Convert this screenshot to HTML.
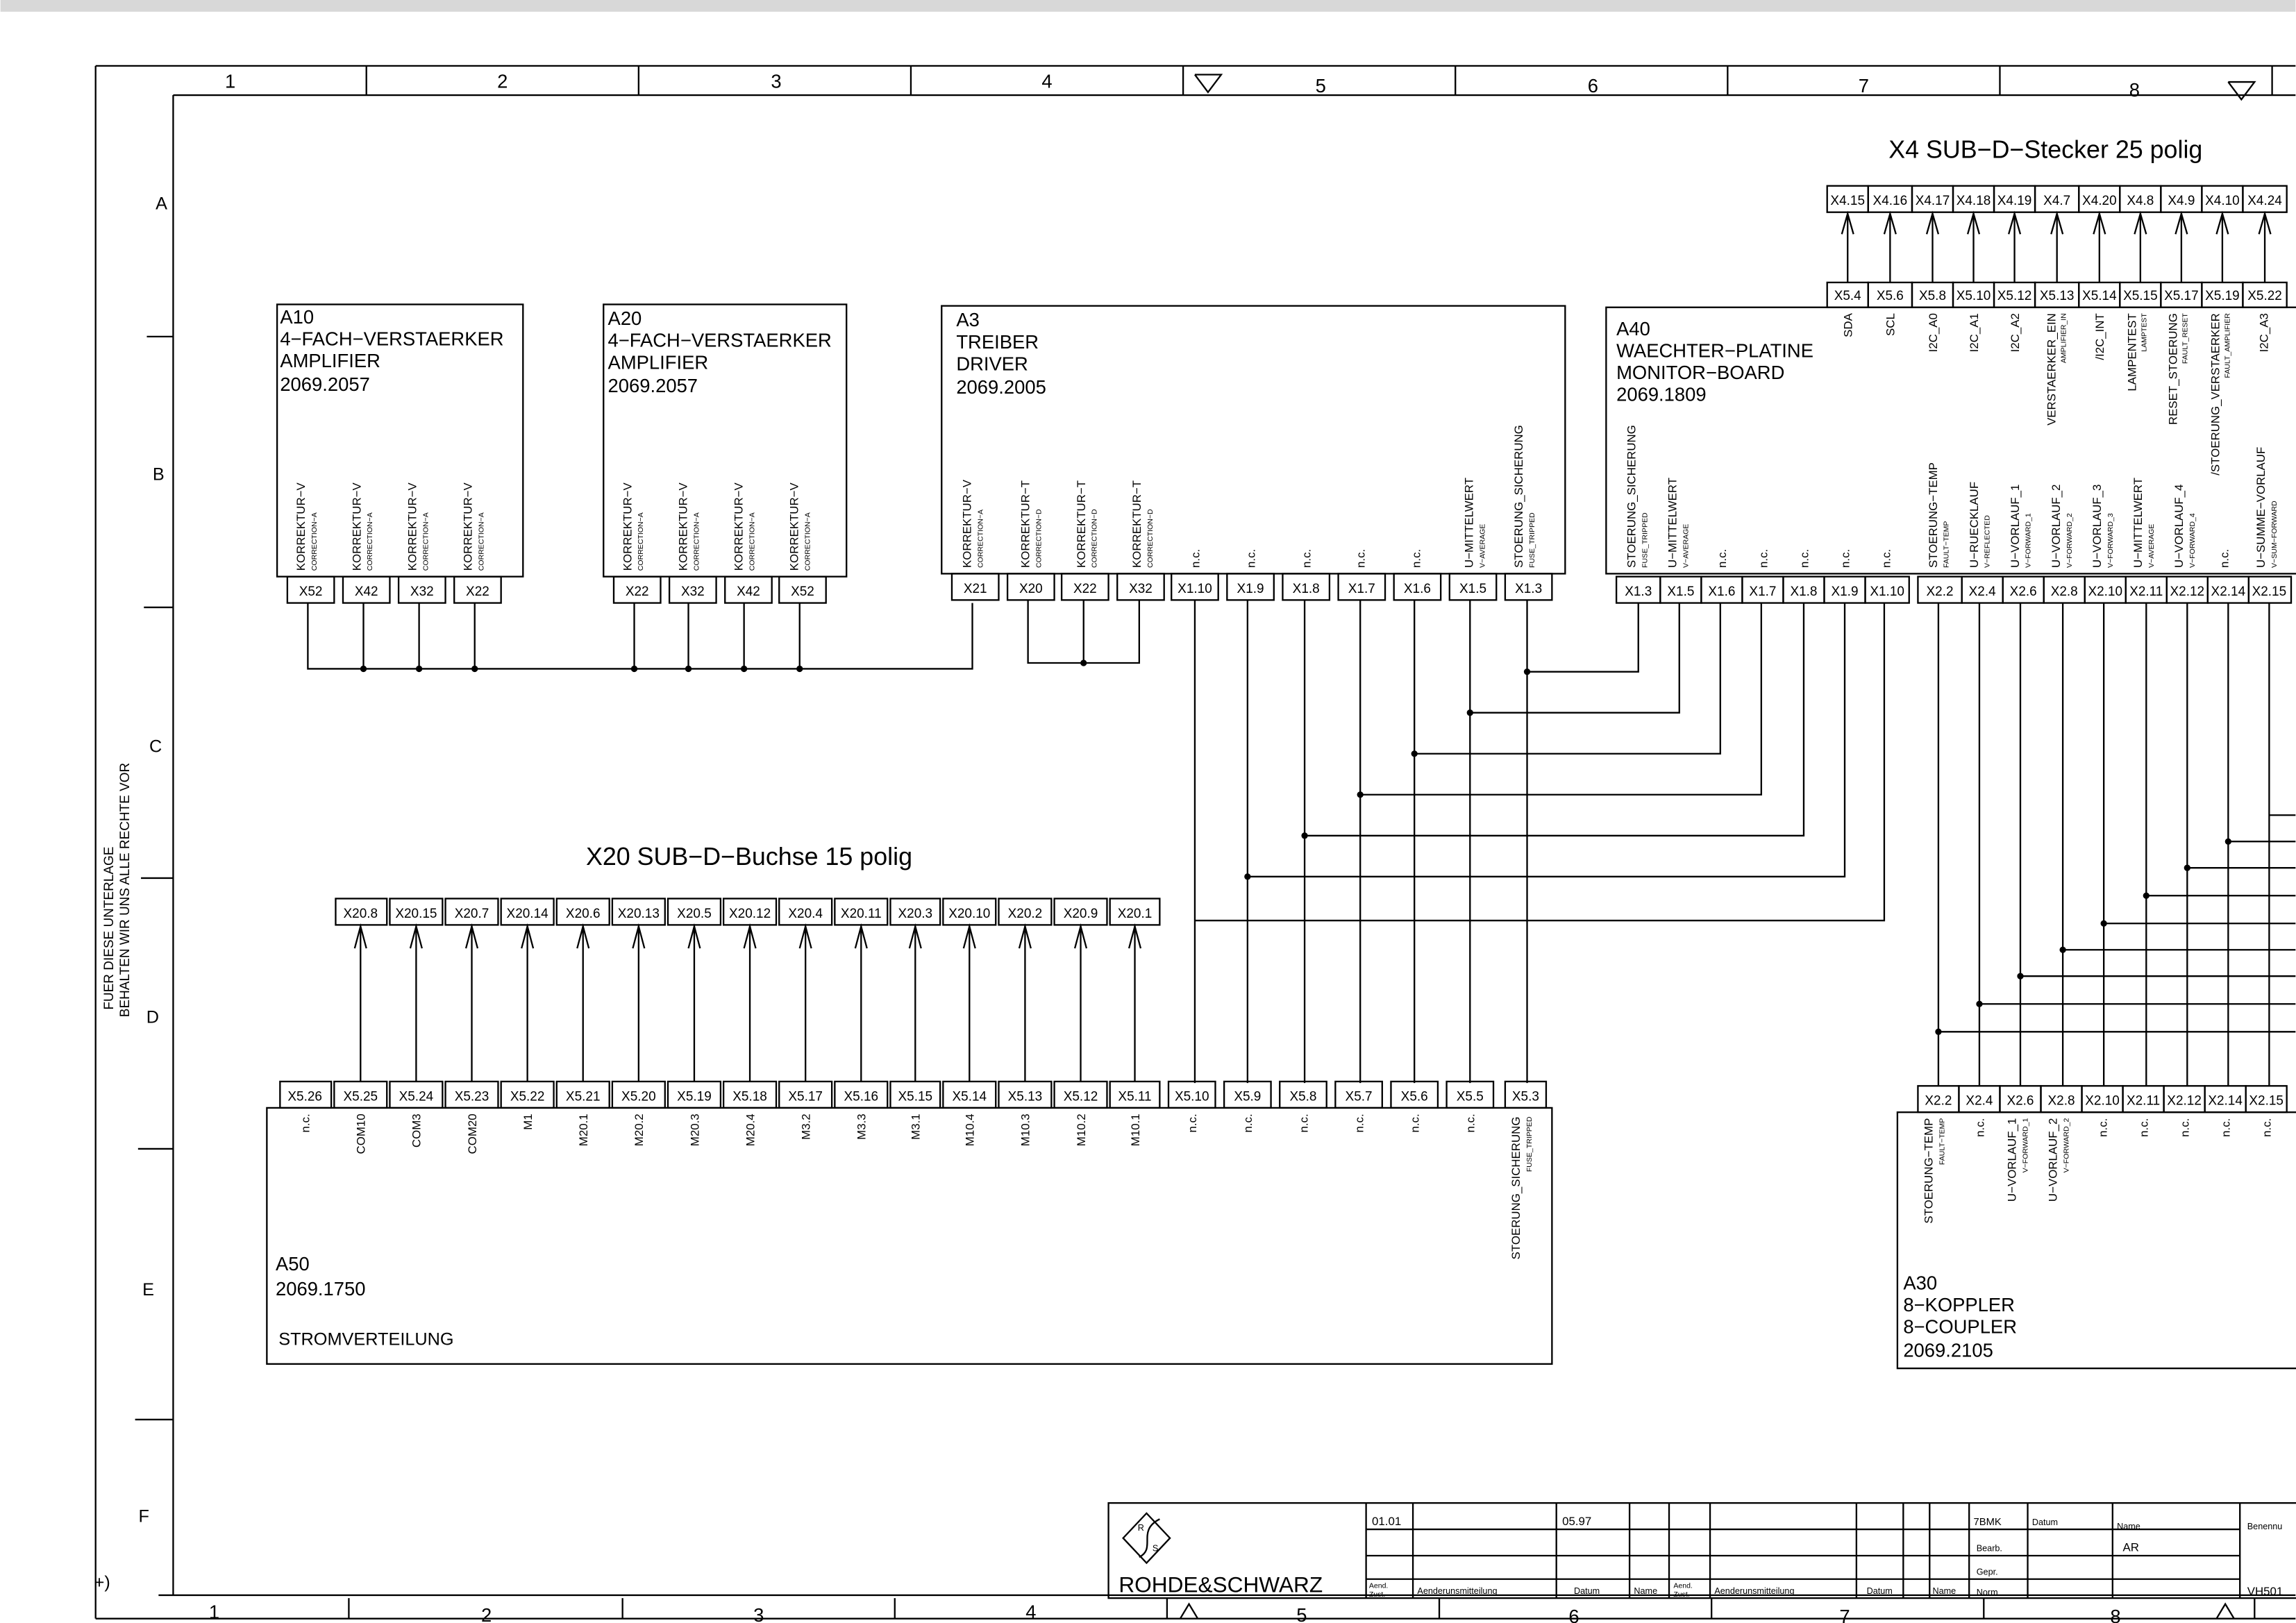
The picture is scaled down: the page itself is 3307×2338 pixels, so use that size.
<!DOCTYPE html>
<html><head><meta charset="utf-8"><style>
html,body{margin:0;padding:0;background:#fff}
svg{display:block}
text{font-family:"Liberation Sans",sans-serif;fill:#000}
.c{font-size:9px;text-anchor:middle}
.b{font-size:13px}
.v{font-size:8px}
.s{font-size:5px}
.t{font-size:17px}
line,rect,polyline,path{stroke:#000;fill:none;stroke-width:1.1}
</style></head><body>
<svg width="3307" height="2338" viewBox="0 0 1568 1109" xmlns="http://www.w3.org/2000/svg">
<rect x="0" y="0" width="1568" height="1109" style="fill:#fff;stroke:none"/>
<rect x="0" y="0" width="1568" height="8" style="fill:#d8d8d8;stroke:none"/>
<!-- frame -->
<line x1="65" y1="45" x2="1568" y2="45"/><line x1="65" y1="45" x2="65" y2="1106"/>
<line x1="118" y1="65" x2="1568" y2="65"/><line x1="118" y1="65" x2="118" y2="1090"/>
<line x1="108" y1="1090" x2="1568" y2="1090"/><line x1="65" y1="1106" x2="1568" y2="1106"/>
<line x1="1552" y1="45" x2="1552" y2="65"/>
<g>
<line x1="250" y1="45" x2="250" y2="65"/><line x1="436" y1="45" x2="436" y2="65"/><line x1="622" y1="45" x2="622" y2="65"/><line x1="808" y1="45" x2="808" y2="65"/><line x1="994" y1="45" x2="994" y2="65"/><line x1="1180" y1="45" x2="1180" y2="65"/><line x1="1366" y1="45" x2="1366" y2="65"/>
</g>
<text x="157" y="60" class="c" style="font-size:13px">1</text><text x="343" y="60" class="c" style="font-size:13px">2</text><text x="530" y="60" class="c" style="font-size:13px">3</text><text x="715" y="60" class="c" style="font-size:13px">4</text><text x="902" y="63" class="c" style="font-size:13px">5</text><text x="1088" y="63" class="c" style="font-size:13px">6</text><text x="1273" y="63" class="c" style="font-size:13px">7</text><text x="1458" y="66" class="c" style="font-size:13px">8</text>
<polyline points="816,51 834,51 825,63 816,51"/><polyline points="1522,56 1540,56 1531,68 1522,56"/>
<g>
<line x1="238" y1="1092" x2="238" y2="1106"/><line x1="425" y1="1092" x2="425" y2="1106"/><line x1="611" y1="1092" x2="611" y2="1106"/><line x1="797" y1="1092" x2="797" y2="1106"/><line x1="983" y1="1092" x2="983" y2="1106"/><line x1="1169" y1="1092" x2="1169" y2="1106"/><line x1="1355" y1="1092" x2="1355" y2="1106"/><line x1="1540" y1="1092" x2="1540" y2="1106"/>
</g>
<text x="146" y="1106" class="c" style="font-size:13px">1</text><text x="332" y="1108" class="c" style="font-size:13px">2</text><text x="518" y="1108" class="c" style="font-size:13px">3</text><text x="704" y="1106" class="c" style="font-size:13px">4</text><text x="889" y="1108" class="c" style="font-size:13px">5</text><text x="1075" y="1109" class="c" style="font-size:13px">6</text><text x="1260" y="1109" class="c" style="font-size:13px">7</text><text x="1445" y="1109" class="c" style="font-size:13px">8</text>
<polyline points="806,1106 812,1096 818,1106"/><polyline points="1514,1106 1520,1096 1526,1106"/>
<!-- row letters -->
<text x="110" y="143" class="c" style="font-size:12px">A</text><text x="108" y="328" class="c" style="font-size:12px">B</text><text x="106" y="514" class="c" style="font-size:12px">C</text><text x="104" y="699" class="c" style="font-size:12px">D</text><text x="101" y="885" class="c" style="font-size:12px">E</text><text x="98" y="1040" class="c" style="font-size:12px">F</text>
<line x1="100" y1="230" x2="118" y2="230"/><line x1="98" y1="415" x2="118" y2="415"/><line x1="96" y1="600" x2="118" y2="600"/><line x1="94" y1="785" x2="118" y2="785"/><line x1="92" y1="970" x2="118" y2="970"/>
<text transform="translate(77,690) rotate(-90)" style="font-size:9px">FUER DIESE UNTERLAGE</text>
<text transform="translate(88,695) rotate(-90)" style="font-size:9px">BEHALTEN WIR UNS ALLE RECHTE VOR</text>
<text x="64" y="1085" style="font-size:12px">+)</text>

<!-- X4 -->
<text x="1290" y="108" class="t">X4 SUB−D−Stecker 25 polig</text>
<g class="c">
<rect x="1248" y="127" width="28" height="18"/><text x="1262" y="140" class="c">X4.15</text>
<rect x="1276" y="127" width="30" height="18"/><text x="1291" y="140" class="c">X4.16</text>
<rect x="1306" y="127" width="28" height="18"/><text x="1320" y="140" class="c">X4.17</text>
<rect x="1334" y="127" width="28" height="18"/><text x="1348" y="140" class="c">X4.18</text>
<rect x="1362" y="127" width="28" height="18"/><text x="1376" y="140" class="c">X4.19</text>
<rect x="1390" y="127" width="30" height="18"/><text x="1405" y="140" class="c">X4.7</text>
<rect x="1420" y="127" width="28" height="18"/><text x="1434" y="140" class="c">X4.20</text>
<rect x="1448" y="127" width="28" height="18"/><text x="1462" y="140" class="c">X4.8</text>
<rect x="1476" y="127" width="28" height="18"/><text x="1490" y="140" class="c">X4.9</text>
<rect x="1504" y="127" width="28" height="18"/><text x="1518" y="140" class="c">X4.10</text>
<rect x="1532" y="127" width="30" height="18"/><text x="1547" y="140" class="c">X4.24</text>
<rect x="1248" y="193" width="28" height="17"/><text x="1262" y="205" class="c">X5.4</text>
<rect x="1276" y="193" width="30" height="17"/><text x="1291" y="205" class="c">X5.6</text>
<rect x="1306" y="193" width="28" height="17"/><text x="1320" y="205" class="c">X5.8</text>
<rect x="1334" y="193" width="28" height="17"/><text x="1348" y="205" class="c">X5.10</text>
<rect x="1362" y="193" width="28" height="17"/><text x="1376" y="205" class="c">X5.12</text>
<rect x="1390" y="193" width="30" height="17"/><text x="1405" y="205" class="c">X5.13</text>
<rect x="1420" y="193" width="28" height="17"/><text x="1434" y="205" class="c">X5.14</text>
<rect x="1448" y="193" width="28" height="17"/><text x="1462" y="205" class="c">X5.15</text>
<rect x="1476" y="193" width="28" height="17"/><text x="1490" y="205" class="c">X5.17</text>
<rect x="1504" y="193" width="28" height="17"/><text x="1518" y="205" class="c">X5.19</text>
<rect x="1532" y="193" width="30" height="17"/><text x="1547" y="205" class="c">X5.22</text>
</g>
<g>
<line x1="1262" y1="193" x2="1262" y2="146"/><polyline points="1258,160 1262,146 1266,160"/>
<line x1="1291" y1="193" x2="1291" y2="146"/><polyline points="1287,160 1291,146 1295,160"/>
<line x1="1320" y1="193" x2="1320" y2="146"/><polyline points="1316,160 1320,146 1324,160"/>
<line x1="1348" y1="193" x2="1348" y2="146"/><polyline points="1344,160 1348,146 1352,160"/>
<line x1="1376" y1="193" x2="1376" y2="146"/><polyline points="1372,160 1376,146 1380,160"/>
<line x1="1405" y1="193" x2="1405" y2="146"/><polyline points="1401,160 1405,146 1409,160"/>
<line x1="1434" y1="193" x2="1434" y2="146"/><polyline points="1430,160 1434,146 1438,160"/>
<line x1="1462" y1="193" x2="1462" y2="146"/><polyline points="1458,160 1462,146 1466,160"/>
<line x1="1490" y1="193" x2="1490" y2="146"/><polyline points="1486,160 1490,146 1494,160"/>
<line x1="1518" y1="193" x2="1518" y2="146"/><polyline points="1514,160 1518,146 1522,160"/>
<line x1="1547" y1="193" x2="1547" y2="146"/><polyline points="1543,160 1547,146 1551,160"/>
</g>

<!-- A10 -->
<rect x="189" y="208" width="168" height="186"/>
<text x="191" y="221" class="b">A10</text><text x="191" y="236" class="b">4−FACH−VERSTAERKER</text><text x="191" y="251" class="b">AMPLIFIER</text><text x="191" y="267" class="b">2069.2057</text>
<g>
<text transform="translate(208,390) rotate(-90)" class="v">KORREKTUR−V</text><text transform="translate(216,390) rotate(-90)" class="s">CORRECTION−A</text>
<text transform="translate(246,390) rotate(-90)" class="v">KORREKTUR−V</text><text transform="translate(254,390) rotate(-90)" class="s">CORRECTION−A</text>
<text transform="translate(284,390) rotate(-90)" class="v">KORREKTUR−V</text><text transform="translate(292,390) rotate(-90)" class="s">CORRECTION−A</text>
<text transform="translate(322,390) rotate(-90)" class="v">KORREKTUR−V</text><text transform="translate(330,390) rotate(-90)" class="s">CORRECTION−A</text>
</g>
<rect x="196" y="394" width="32" height="18"/><text x="212" y="407" class="c">X52</text>
<rect x="234" y="394" width="32" height="18"/><text x="250" y="407" class="c">X42</text>
<rect x="272" y="394" width="32" height="18"/><text x="288" y="407" class="c">X32</text>
<rect x="310" y="394" width="32" height="18"/><text x="326" y="407" class="c">X22</text>
<!-- A20 -->
<rect x="412" y="208" width="166" height="186"/>
<text x="415" y="222" class="b">A20</text><text x="415" y="237" class="b">4−FACH−VERSTAERKER</text><text x="415" y="252" class="b">AMPLIFIER</text><text x="415" y="268" class="b">2069.2057</text>
<g>
<text transform="translate(431,390) rotate(-90)" class="v">KORREKTUR−V</text><text transform="translate(439,390) rotate(-90)" class="s">CORRECTION−A</text>
<text transform="translate(469,390) rotate(-90)" class="v">KORREKTUR−V</text><text transform="translate(477,390) rotate(-90)" class="s">CORRECTION−A</text>
<text transform="translate(507,390) rotate(-90)" class="v">KORREKTUR−V</text><text transform="translate(515,390) rotate(-90)" class="s">CORRECTION−A</text>
<text transform="translate(545,390) rotate(-90)" class="v">KORREKTUR−V</text><text transform="translate(553,390) rotate(-90)" class="s">CORRECTION−A</text>
</g>
<rect x="419" y="394" width="32" height="18"/><text x="435" y="407" class="c">X22</text>
<rect x="457" y="394" width="32" height="18"/><text x="473" y="407" class="c">X32</text>
<rect x="495" y="394" width="32" height="18"/><text x="511" y="407" class="c">X42</text>
<rect x="532" y="394" width="32" height="18"/><text x="548" y="407" class="c">X52</text>
<!-- bus -->
<polyline points="210,412 210,457 664,457 664,412"/>
<line x1="248" y1="412" x2="248" y2="457"/><line x1="286" y1="412" x2="286" y2="457"/><line x1="324" y1="412" x2="324" y2="457"/>
<line x1="433" y1="412" x2="433" y2="457"/><line x1="470" y1="412" x2="470" y2="457"/><line x1="508" y1="412" x2="508" y2="457"/><line x1="546" y1="412" x2="546" y2="457"/>
<g style="fill:#000">
<circle cx="248" cy="457" r="2.2"/><circle cx="286" cy="457" r="2.2"/><circle cx="324" cy="457" r="2.2"/><circle cx="433" cy="457" r="2.2"/><circle cx="470" cy="457" r="2.2"/><circle cx="508" cy="457" r="2.2"/><circle cx="546" cy="457" r="2.2"/>
<circle cx="740" cy="453" r="2.2"/>
</g>
<polyline points="702,410 702,453 778,453 778,410"/><line x1="740" y1="410" x2="740" y2="453"/>

<!-- A3 -->
<rect x="643" y="209" width="426" height="183"/>
<text x="653" y="223" class="b">A3</text><text x="653" y="238" class="b">TREIBER</text><text x="653" y="253" class="b">DRIVER</text><text x="653" y="269" class="b">2069.2005</text>
<g>
<text transform="translate(663,388) rotate(-90)" class="v">KORREKTUR−V</text><text transform="translate(671,388) rotate(-90)" class="s">CORRECTION−A</text>
<text transform="translate(703,388) rotate(-90)" class="v">KORREKTUR−T</text><text transform="translate(711,388) rotate(-90)" class="s">CORRECTION−D</text>
<text transform="translate(741,388) rotate(-90)" class="v">KORREKTUR−T</text><text transform="translate(749,388) rotate(-90)" class="s">CORRECTION−D</text>
<text transform="translate(779,388) rotate(-90)" class="v">KORREKTUR−T</text><text transform="translate(787,388) rotate(-90)" class="s">CORRECTION−D</text>
<text transform="translate(819,388) rotate(-90)" class="v">n.c.</text>
<text transform="translate(857,388) rotate(-90)" class="v">n.c.</text>
<text transform="translate(895,388) rotate(-90)" class="v">n.c.</text>
<text transform="translate(932,388) rotate(-90)" class="v">n.c.</text>
<text transform="translate(970,388) rotate(-90)" class="v">n.c.</text>
<text transform="translate(1006,388) rotate(-90)" class="v">U−MITTELWERT</text><text transform="translate(1014,388) rotate(-90)" class="s">V−AVERAGE</text>
<text transform="translate(1040,388) rotate(-90)" class="v">STOERUNG_SICHERUNG</text><text transform="translate(1048,388) rotate(-90)" class="s">FUSE_TRIPPED</text>
</g>
<rect x="650" y="392" width="32" height="18"/><text x="666" y="405" class="c">X21</text>
<rect x="688" y="392" width="32" height="18"/><text x="704" y="405" class="c">X20</text>
<rect x="725" y="392" width="32" height="18"/><text x="741" y="405" class="c">X22</text>
<rect x="763" y="392" width="32" height="18"/><text x="779" y="405" class="c">X32</text>
<rect x="800" y="392" width="32" height="18"/><text x="816" y="405" class="c">X1.10</text>
<rect x="838" y="392" width="32" height="18"/><text x="854" y="405" class="c">X1.9</text>
<rect x="876" y="392" width="32" height="18"/><text x="892" y="405" class="c">X1.8</text>
<rect x="914" y="392" width="32" height="18"/><text x="930" y="405" class="c">X1.7</text>
<rect x="952" y="392" width="32" height="18"/><text x="968" y="405" class="c">X1.6</text>
<rect x="990" y="392" width="32" height="18"/><text x="1006" y="405" class="c">X1.5</text>
<rect x="1028" y="392" width="32" height="18"/><text x="1044" y="405" class="c">X1.3</text>

<!-- A40 -->
<rect x="1097" y="210" width="480" height="182"/>
<text x="1104" y="229" class="b">A40</text><text x="1104" y="244" class="b">WAECHTER−PLATINE</text><text x="1104" y="259" class="b">MONITOR−BOARD</text><text x="1104" y="274" class="b">2069.1809</text>
<g>
<text transform="translate(1265,214) rotate(-90)" class="v" text-anchor="end">SDA</text>
<text transform="translate(1294,214) rotate(-90)" class="v" text-anchor="end">SCL</text>
<text transform="translate(1323,214) rotate(-90)" class="v" text-anchor="end">I2C_A0</text>
<text transform="translate(1351,214) rotate(-90)" class="v" text-anchor="end">I2C_A1</text>
<text transform="translate(1379,214) rotate(-90)" class="v" text-anchor="end">I2C_A2</text>
<text transform="translate(1404,214) rotate(-90)" class="v" text-anchor="end">VERSTAERKER_EIN</text><text transform="translate(1411,214) rotate(-90)" class="s" text-anchor="end">AMPLIFIER_IN</text>
<text transform="translate(1437,214) rotate(-90)" class="v" text-anchor="end">/I2C_INT</text>
<text transform="translate(1459,214) rotate(-90)" class="v" text-anchor="end">LAMPENTEST</text><text transform="translate(1466,214) rotate(-90)" class="s" text-anchor="end">LAMPTEST</text>
<text transform="translate(1487,214) rotate(-90)" class="v" text-anchor="end">RESET_STOERUNG</text><text transform="translate(1494,214) rotate(-90)" class="s" text-anchor="end">FAULT_RESET</text>
<text transform="translate(1516,214) rotate(-90)" class="v" text-anchor="end">/STOERUNG_VERSTAERKER</text><text transform="translate(1523,214) rotate(-90)" class="s" text-anchor="end">FAULT_AMPLIFIER</text>
<text transform="translate(1549,214) rotate(-90)" class="v" text-anchor="end">I2C_A3</text>
<text transform="translate(1117,388) rotate(-90)" class="v">STOERUNG_SICHERUNG</text><text transform="translate(1125,388) rotate(-90)" class="s">FUSE_TRIPPED</text>
<text transform="translate(1145,388) rotate(-90)" class="v">U−MITTELWERT</text><text transform="translate(1153,388) rotate(-90)" class="s">V−AVERAGE</text>
<text transform="translate(1179,388) rotate(-90)" class="v">n.c.</text>
<text transform="translate(1207,388) rotate(-90)" class="v">n.c.</text>
<text transform="translate(1235,388) rotate(-90)" class="v">n.c.</text>
<text transform="translate(1263,388) rotate(-90)" class="v">n.c.</text>
<text transform="translate(1291,388) rotate(-90)" class="v">n.c.</text>
<text transform="translate(1323,388) rotate(-90)" class="v">STOERUNG−TEMP</text><text transform="translate(1331,388) rotate(-90)" class="s">FAULT−TEMP</text>
<text transform="translate(1351,388) rotate(-90)" class="v">U−RUECKLAUF</text><text transform="translate(1359,388) rotate(-90)" class="s">V−REFLECTED</text>
<text transform="translate(1379,388) rotate(-90)" class="v">U−VORLAUF_1</text><text transform="translate(1387,388) rotate(-90)" class="s">V−FORWARD_1</text>
<text transform="translate(1407,388) rotate(-90)" class="v">U−VORLAUF_2</text><text transform="translate(1415,388) rotate(-90)" class="s">V−FORWARD_2</text>
<text transform="translate(1435,388) rotate(-90)" class="v">U−VORLAUF_3</text><text transform="translate(1443,388) rotate(-90)" class="s">V−FORWARD_3</text>
<text transform="translate(1463,388) rotate(-90)" class="v">U−MITTELWERT</text><text transform="translate(1471,388) rotate(-90)" class="s">V−AVERAGE</text>
<text transform="translate(1491,388) rotate(-90)" class="v">U−VORLAUF_4</text><text transform="translate(1499,388) rotate(-90)" class="s">V−FORWARD_4</text>
<text transform="translate(1522,388) rotate(-90)" class="v">n.c.</text>
<text transform="translate(1547,388) rotate(-90)" class="v">U−SUMME−VORLAUF</text><text transform="translate(1555,388) rotate(-90)" class="s">V−SUM−FORWARD</text>
</g>
<g>
<rect x="1104" y="394" width="30" height="18"/><text x="1119" y="407" class="c">X1.3</text>
<rect x="1134" y="394" width="28" height="18"/><text x="1148" y="407" class="c">X1.5</text>
<rect x="1162" y="394" width="28" height="18"/><text x="1176" y="407" class="c">X1.6</text>
<rect x="1190" y="394" width="28" height="18"/><text x="1204" y="407" class="c">X1.7</text>
<rect x="1218" y="394" width="28" height="18"/><text x="1232" y="407" class="c">X1.8</text>
<rect x="1246" y="394" width="28" height="18"/><text x="1260" y="407" class="c">X1.9</text>
<rect x="1274" y="394" width="30" height="18"/><text x="1289" y="407" class="c">X1.10</text>
<rect x="1310" y="394" width="30" height="18"/><text x="1325" y="407" class="c">X2.2</text>
<rect x="1340" y="394" width="28" height="18"/><text x="1354" y="407" class="c">X2.4</text>
<rect x="1368" y="394" width="28" height="18"/><text x="1382" y="407" class="c">X2.6</text>
<rect x="1396" y="394" width="28" height="18"/><text x="1410" y="407" class="c">X2.8</text>
<rect x="1424" y="394" width="28" height="18"/><text x="1438" y="407" class="c">X2.10</text>
<rect x="1452" y="394" width="28" height="18"/><text x="1466" y="407" class="c">X2.11</text>
<rect x="1480" y="394" width="28" height="18"/><text x="1494" y="407" class="c">X2.12</text>
<rect x="1508" y="394" width="28" height="18"/><text x="1522" y="407" class="c">X2.14</text>
<rect x="1536" y="394" width="29" height="18"/><text x="1550" y="407" class="c">X2.15</text>
</g>
<!-- X1 wiring -->
<g>
<line x1="1043" y1="410" x2="1043" y2="740"/><polyline points="1043,459 1119,459 1119,412"/>
<line x1="1004" y1="410" x2="1004" y2="740"/><polyline points="1004,487 1147,487 1147,412"/>
<line x1="966" y1="410" x2="966" y2="740"/><polyline points="966,515 1175,515 1175,412"/>
<line x1="929" y1="410" x2="929" y2="740"/><polyline points="929,543 1203,543 1203,412"/>
<line x1="891" y1="410" x2="891" y2="740"/><polyline points="891,571 1232,571 1232,412"/>
<line x1="852" y1="410" x2="852" y2="740"/><polyline points="852,599 1260,599 1260,412"/>
<line x1="816" y1="410" x2="816" y2="740"/><polyline points="816,629 1287,629 1287,412"/>
</g>
<g style="fill:#000">
<circle cx="1043" cy="459" r="2.2"/><circle cx="1004" cy="487" r="2.2"/><circle cx="966" cy="515" r="2.2"/><circle cx="929" cy="543" r="2.2"/><circle cx="891" cy="571" r="2.2"/><circle cx="852" cy="599" r="2.2"/>
<circle cx="1324" cy="705" r="2.2"/><circle cx="1352" cy="686" r="2.2"/><circle cx="1380" cy="667" r="2.2"/><circle cx="1409" cy="649" r="2.2"/><circle cx="1437" cy="631" r="2.2"/><circle cx="1466" cy="612" r="2.2"/><circle cx="1494" cy="593" r="2.2"/><circle cx="1522" cy="575" r="2.2"/>
</g>
<!-- X2 wiring -->
<g>
<line x1="1324" y1="412" x2="1324" y2="742"/><line x1="1324" y1="705" x2="1568" y2="705"/>
<line x1="1352" y1="412" x2="1352" y2="742"/><line x1="1352" y1="686" x2="1568" y2="686"/>
<line x1="1380" y1="412" x2="1380" y2="742"/><line x1="1380" y1="667" x2="1568" y2="667"/>
<line x1="1409" y1="412" x2="1409" y2="742"/><line x1="1409" y1="649" x2="1568" y2="649"/>
<line x1="1437" y1="412" x2="1437" y2="742"/><line x1="1437" y1="631" x2="1568" y2="631"/>
<line x1="1466" y1="412" x2="1466" y2="742"/><line x1="1466" y1="612" x2="1568" y2="612"/>
<line x1="1494" y1="412" x2="1494" y2="742"/><line x1="1494" y1="593" x2="1568" y2="593"/>
<line x1="1522" y1="412" x2="1522" y2="742"/><line x1="1522" y1="575" x2="1568" y2="575"/>
<line x1="1550" y1="412" x2="1550" y2="742"/><line x1="1550" y1="557" x2="1568" y2="557"/>
</g>

<!-- X20 -->
<text x="400" y="591" class="t">X20 SUB−D−Buchse 15 polig</text>
<g>
<rect x="229" y="614" width="35" height="18"/><text x="246" y="627" class="c">X20.8</text>
<rect x="266" y="614" width="36" height="18"/><text x="284" y="627" class="c">X20.15</text>
<rect x="304" y="614" width="36" height="18"/><text x="322" y="627" class="c">X20.7</text>
<rect x="342" y="614" width="36" height="18"/><text x="360" y="627" class="c">X20.14</text>
<rect x="380" y="614" width="36" height="18"/><text x="398" y="627" class="c">X20.6</text>
<rect x="418" y="614" width="36" height="18"/><text x="436" y="627" class="c">X20.13</text>
<rect x="456" y="614" width="36" height="18"/><text x="474" y="627" class="c">X20.5</text>
<rect x="494" y="614" width="36" height="18"/><text x="512" y="627" class="c">X20.12</text>
<rect x="532" y="614" width="36" height="18"/><text x="550" y="627" class="c">X20.4</text>
<rect x="570" y="614" width="36" height="18"/><text x="588" y="627" class="c">X20.11</text>
<rect x="608" y="614" width="34" height="18"/><text x="625" y="627" class="c">X20.3</text>
<rect x="644" y="614" width="36" height="18"/><text x="662" y="627" class="c">X20.10</text>
<rect x="682" y="614" width="36" height="18"/><text x="700" y="627" class="c">X20.2</text>
<rect x="720" y="614" width="36" height="18"/><text x="738" y="627" class="c">X20.9</text>
<rect x="758" y="614" width="34" height="18"/><text x="775" y="627" class="c">X20.1</text>
</g>
<g>
<line x1="246" y1="739" x2="246" y2="633"/><polyline points="242,648 246,633 250,648"/>
<line x1="284" y1="739" x2="284" y2="633"/><polyline points="280,648 284,633 288,648"/>
<line x1="322" y1="739" x2="322" y2="633"/><polyline points="318,648 322,633 326,648"/>
<line x1="360" y1="739" x2="360" y2="633"/><polyline points="356,648 360,633 364,648"/>
<line x1="398" y1="739" x2="398" y2="633"/><polyline points="394,648 398,633 402,648"/>
<line x1="436" y1="739" x2="436" y2="633"/><polyline points="432,648 436,633 440,648"/>
<line x1="474" y1="739" x2="474" y2="633"/><polyline points="470,648 474,633 478,648"/>
<line x1="512" y1="739" x2="512" y2="633"/><polyline points="508,648 512,633 516,648"/>
<line x1="550" y1="739" x2="550" y2="633"/><polyline points="546,648 550,633 554,648"/>
<line x1="588" y1="739" x2="588" y2="633"/><polyline points="584,648 588,633 592,648"/>
<line x1="625" y1="739" x2="625" y2="633"/><polyline points="621,648 625,633 629,648"/>
<line x1="662" y1="739" x2="662" y2="633"/><polyline points="658,648 662,633 666,648"/>
<line x1="700" y1="739" x2="700" y2="633"/><polyline points="696,648 700,633 704,648"/>
<line x1="738" y1="739" x2="738" y2="633"/><polyline points="734,648 738,633 742,648"/>
<line x1="775" y1="739" x2="775" y2="633"/><polyline points="771,648 775,633 779,648"/>
</g>

<!-- A50 -->
<rect x="182" y="757" width="878" height="175"/>
<text x="188" y="868" class="b">A50</text><text x="188" y="885" class="b">2069.1750</text><text x="190" y="919" style="font-size:12px">STROMVERTEILUNG</text>
<g>
<rect x="191" y="739" width="35" height="18"/><text x="208" y="752" class="c">X5.26</text>
<rect x="228" y="739" width="36" height="18"/><text x="246" y="752" class="c">X5.25</text>
<rect x="266" y="739" width="36" height="18"/><text x="284" y="752" class="c">X5.24</text>
<rect x="304" y="739" width="36" height="18"/><text x="322" y="752" class="c">X5.23</text>
<rect x="342" y="739" width="36" height="18"/><text x="360" y="752" class="c">X5.22</text>
<rect x="380" y="739" width="36" height="18"/><text x="398" y="752" class="c">X5.21</text>
<rect x="418" y="739" width="36" height="18"/><text x="436" y="752" class="c">X5.20</text>
<rect x="456" y="739" width="36" height="18"/><text x="474" y="752" class="c">X5.19</text>
<rect x="494" y="739" width="36" height="18"/><text x="512" y="752" class="c">X5.18</text>
<rect x="532" y="739" width="36" height="18"/><text x="550" y="752" class="c">X5.17</text>
<rect x="570" y="739" width="36" height="18"/><text x="588" y="752" class="c">X5.16</text>
<rect x="608" y="739" width="34" height="18"/><text x="625" y="752" class="c">X5.15</text>
<rect x="644" y="739" width="36" height="18"/><text x="662" y="752" class="c">X5.14</text>
<rect x="682" y="739" width="36" height="18"/><text x="700" y="752" class="c">X5.13</text>
<rect x="720" y="739" width="36" height="18"/><text x="738" y="752" class="c">X5.12</text>
<rect x="758" y="739" width="34" height="18"/><text x="775" y="752" class="c">X5.11</text>
<rect x="798" y="739" width="32" height="18"/><text x="814" y="752" class="c">X5.10</text>
<rect x="836" y="739" width="32" height="18"/><text x="852" y="752" class="c">X5.9</text>
<rect x="874" y="739" width="32" height="18"/><text x="890" y="752" class="c">X5.8</text>
<rect x="912" y="739" width="32" height="18"/><text x="928" y="752" class="c">X5.7</text>
<rect x="950" y="739" width="32" height="18"/><text x="966" y="752" class="c">X5.6</text>
<rect x="988" y="739" width="32" height="18"/><text x="1004" y="752" class="c">X5.5</text>
<rect x="1028" y="739" width="28" height="18"/><text x="1042" y="752" class="c">X5.3</text>
</g>
<g>
<text transform="translate(211,761) rotate(-90)" class="v" text-anchor="end">n.c.</text>
<text transform="translate(249,761) rotate(-90)" class="v" text-anchor="end">COM10</text>
<text transform="translate(287,761) rotate(-90)" class="v" text-anchor="end">COM3</text>
<text transform="translate(325,761) rotate(-90)" class="v" text-anchor="end">COM20</text>
<text transform="translate(363,761) rotate(-90)" class="v" text-anchor="end">M1</text>
<text transform="translate(401,761) rotate(-90)" class="v" text-anchor="end">M20.1</text>
<text transform="translate(439,761) rotate(-90)" class="v" text-anchor="end">M20.2</text>
<text transform="translate(477,761) rotate(-90)" class="v" text-anchor="end">M20.3</text>
<text transform="translate(515,761) rotate(-90)" class="v" text-anchor="end">M20.4</text>
<text transform="translate(553,761) rotate(-90)" class="v" text-anchor="end">M3.2</text>
<text transform="translate(591,761) rotate(-90)" class="v" text-anchor="end">M3.3</text>
<text transform="translate(628,761) rotate(-90)" class="v" text-anchor="end">M3.1</text>
<text transform="translate(665,761) rotate(-90)" class="v" text-anchor="end">M10.4</text>
<text transform="translate(703,761) rotate(-90)" class="v" text-anchor="end">M10.3</text>
<text transform="translate(741,761) rotate(-90)" class="v" text-anchor="end">M10.2</text>
<text transform="translate(778,761) rotate(-90)" class="v" text-anchor="end">M10.1</text>
<text transform="translate(817,761) rotate(-90)" class="v" text-anchor="end">n.c.</text>
<text transform="translate(855,761) rotate(-90)" class="v" text-anchor="end">n.c.</text>
<text transform="translate(893,761) rotate(-90)" class="v" text-anchor="end">n.c.</text>
<text transform="translate(931,761) rotate(-90)" class="v" text-anchor="end">n.c.</text>
<text transform="translate(969,761) rotate(-90)" class="v" text-anchor="end">n.c.</text>
<text transform="translate(1007,761) rotate(-90)" class="v" text-anchor="end">n.c.</text>
<text transform="translate(1038,763) rotate(-90)" class="v" text-anchor="end">STOERUNG_SICHERUNG</text><text transform="translate(1046,763) rotate(-90)" class="s" text-anchor="end">FUSE_TRIPPED</text>
</g>

<!-- A30 -->
<rect x="1296" y="760" width="280" height="175"/>
<g>
<rect x="1310" y="742" width="28" height="18"/><text x="1324" y="755" class="c">X2.2</text>
<rect x="1338" y="742" width="28" height="18"/><text x="1352" y="755" class="c">X2.4</text>
<rect x="1366" y="742" width="28" height="18"/><text x="1380" y="755" class="c">X2.6</text>
<rect x="1394" y="742" width="28" height="18"/><text x="1408" y="755" class="c">X2.8</text>
<rect x="1422" y="742" width="28" height="18"/><text x="1436" y="755" class="c">X2.10</text>
<rect x="1450" y="742" width="28" height="18"/><text x="1464" y="755" class="c">X2.11</text>
<rect x="1478" y="742" width="28" height="18"/><text x="1492" y="755" class="c">X2.12</text>
<rect x="1506" y="742" width="28" height="18"/><text x="1520" y="755" class="c">X2.14</text>
<rect x="1534" y="742" width="28" height="18"/><text x="1548" y="755" class="c">X2.15</text>
</g>
<g>
<text transform="translate(1320,764) rotate(-90)" class="v" text-anchor="end">STOERUNG−TEMP</text><text transform="translate(1328,764) rotate(-90)" class="s" text-anchor="end">FAULT−TEMP</text>
<text transform="translate(1355,764) rotate(-90)" class="v" text-anchor="end">n.c.</text>
<text transform="translate(1377,764) rotate(-90)" class="v" text-anchor="end">U−VORLAUF_1</text><text transform="translate(1385,764) rotate(-90)" class="s" text-anchor="end">V−FORWARD_1</text>
<text transform="translate(1405,764) rotate(-90)" class="v" text-anchor="end">U−VORLAUF_2</text><text transform="translate(1413,764) rotate(-90)" class="s" text-anchor="end">V−FORWARD_2</text>
<text transform="translate(1439,764) rotate(-90)" class="v" text-anchor="end">n.c.</text>
<text transform="translate(1467,764) rotate(-90)" class="v" text-anchor="end">n.c.</text>
<text transform="translate(1495,764) rotate(-90)" class="v" text-anchor="end">n.c.</text>
<text transform="translate(1523,764) rotate(-90)" class="v" text-anchor="end">n.c.</text>
<text transform="translate(1551,764) rotate(-90)" class="v" text-anchor="end">n.c.</text>
</g>
<text x="1300" y="881" class="b">A30</text><text x="1300" y="896" class="b">8−KOPPLER</text><text x="1300" y="911" class="b">8−COUPLER</text><text x="1300" y="927" class="b">2069.2105</text>

<!-- title block -->
<rect x="757" y="1027" width="820" height="65"/>
<line x1="933" y1="1027" x2="933" y2="1092"/>
<line x1="933" y1="1045" x2="1530" y2="1045"/><line x1="933" y1="1063" x2="1530" y2="1063"/><line x1="933" y1="1079" x2="1530" y2="1079"/>
<line x1="1530" y1="1027" x2="1530" y2="1092"/>
<line x1="965" y1="1027" x2="965" y2="1092"/><line x1="1063" y1="1027" x2="1063" y2="1092"/><line x1="1113" y1="1027" x2="1113" y2="1092"/><line x1="1140" y1="1027" x2="1140" y2="1092"/><line x1="1168" y1="1027" x2="1168" y2="1092"/><line x1="1268" y1="1027" x2="1268" y2="1092"/><line x1="1300" y1="1027" x2="1300" y2="1092"/><line x1="1318" y1="1027" x2="1318" y2="1092"/><line x1="1345" y1="1027" x2="1345" y2="1092"/><line x1="1385" y1="1027" x2="1385" y2="1092"/><line x1="1443" y1="1027" x2="1443" y2="1092"/>
<path d="M783,1034 L799,1051 L783,1068 L767,1051 Z"/>
<path d="M778,1064 C790,1058 776,1046 792,1038"/>
<text x="777" y="1046" style="font-size:6px">R</text><text x="787" y="1060" style="font-size:6px">S</text>
<text x="764" y="1088" style="font-size:15px">ROHDE&amp;SCHWARZ</text>
<text x="937" y="1042" style="font-size:8px">01.01</text><text x="1067" y="1042" style="font-size:8px">05.97</text>
<text x="1348" y="1042" style="font-size:7px">7BMK</text><text x="1388" y="1042" style="font-size:6px">Datum</text><text x="1446" y="1045" style="font-size:6px">Name</text><text x="1535" y="1045" style="font-size:6px">Benennu</text>
<text x="1350" y="1060" style="font-size:6px">Bearb.</text><text x="1450" y="1060" style="font-size:8px">AR</text>
<text x="1350" y="1076" style="font-size:6px">Gepr.</text>
<text x="1350" y="1090" style="font-size:6px">Norm</text><text x="1535" y="1090" style="font-size:8px">VH501</text>
<text x="935" y="1085" style="font-size:5px">Aend.</text><text x="935" y="1091" style="font-size:5px">Zust.</text>
<text x="968" y="1089" style="font-size:6px">Aenderunsmitteilung</text><text x="1075" y="1089" style="font-size:6px">Datum</text><text x="1116" y="1089" style="font-size:6px">Name</text>
<text x="1143" y="1085" style="font-size:5px">Aend.</text><text x="1143" y="1091" style="font-size:5px">Zust.</text>
<text x="1171" y="1089" style="font-size:6px">Aenderunsmitteilung</text><text x="1275" y="1089" style="font-size:6px">Datum</text><text x="1320" y="1089" style="font-size:6px">Name</text>
</svg>
</body></html>
